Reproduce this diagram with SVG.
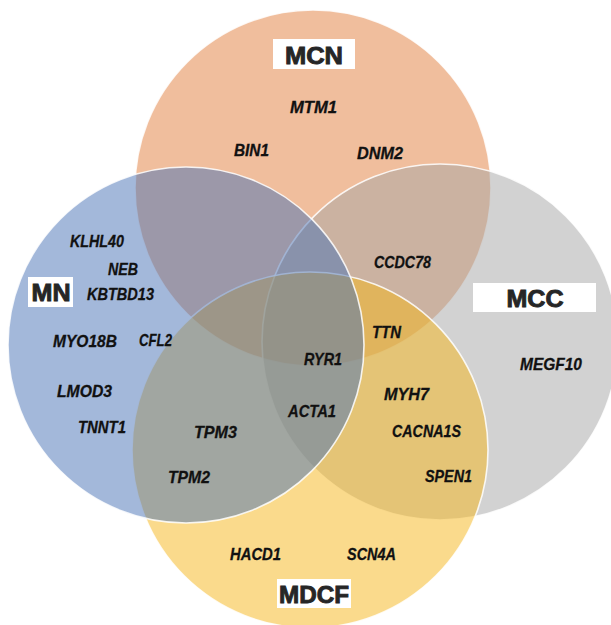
<svg xmlns="http://www.w3.org/2000/svg" width="611" height="625" viewBox="0 0 611 625">
<style>
.set{stroke:#ffffff;stroke-width:1.6;stroke-opacity:0.85}
.box{fill:#ffffff}
.title{font-family:"Liberation Sans",Arial,sans-serif;font-weight:700;font-size:24px;fill:#262626;stroke:#262626;stroke-width:0.9;text-anchor:middle}
.gene{font-family:"Liberation Sans",Arial,sans-serif;font-weight:700;font-style:italic;font-size:17px;fill:#111111;stroke:#111111;stroke-width:0.3}
</style>
<rect width="611" height="625" fill="#ffffff"/>
<g id="MCN">
<circle class="set" cx="313" cy="188" r="178" fill="#E17D3B" fill-opacity="0.5"/>
<rect class="box" x="273" y="39" width="82" height="30"/>
<text class="title" x="314" y="64" textLength="58" lengthAdjust="spacingAndGlyphs">MCN</text>
</g>
<g id="MCC">
<circle class="set" cx="440" cy="342" r="178" fill="#A5A5A5" fill-opacity="0.5"/>
<rect class="box" x="473" y="283" width="123" height="29"/>
<text class="title" x="535" y="307" textLength="57" lengthAdjust="spacingAndGlyphs">MCC</text>
</g>
<g id="MDCF">
<circle class="set" cx="310" cy="450" r="178" fill="#F5B519" fill-opacity="0.5"/>
<rect class="box" x="277" y="579" width="74" height="29"/>
<text class="title" x="314" y="603" textLength="70" lengthAdjust="spacingAndGlyphs">MDCF</text>
</g>
<g id="MN">
<circle class="set" cx="186" cy="345" r="178" fill="#4771B5" fill-opacity="0.5"/>
<rect class="box" x="28" y="277" width="45" height="30"/>
<text class="title" x="51" y="301" textLength="39" lengthAdjust="spacingAndGlyphs">MN</text>
</g>
<g id="genes" class="gene">
<text x="290" y="113" textLength="47" lengthAdjust="spacingAndGlyphs">MTM1</text>
<text x="234" y="156" textLength="35" lengthAdjust="spacingAndGlyphs">BIN1</text>
<text x="357" y="159" textLength="46" lengthAdjust="spacingAndGlyphs">DNM2</text>
<text x="70" y="247" textLength="54" lengthAdjust="spacingAndGlyphs">KLHL40</text>
<text x="108" y="275" textLength="30" lengthAdjust="spacingAndGlyphs">NEB</text>
<text x="87" y="300" textLength="67" lengthAdjust="spacingAndGlyphs">KBTBD13</text>
<text x="374" y="268" textLength="57" lengthAdjust="spacingAndGlyphs">CCDC78</text>
<text x="53" y="347" textLength="64" lengthAdjust="spacingAndGlyphs">MYO18B</text>
<text x="139" y="346" textLength="33" lengthAdjust="spacingAndGlyphs">CFL2</text>
<text x="57" y="397" textLength="55" lengthAdjust="spacingAndGlyphs">LMOD3</text>
<text x="78" y="433" textLength="48" lengthAdjust="spacingAndGlyphs">TNNT1</text>
<text x="372" y="338" textLength="29" lengthAdjust="spacingAndGlyphs">TTN</text>
<text x="304" y="365" textLength="38" lengthAdjust="spacingAndGlyphs">RYR1</text>
<text x="520" y="370" textLength="62" lengthAdjust="spacingAndGlyphs">MEGF10</text>
<text x="384" y="400" textLength="45" lengthAdjust="spacingAndGlyphs">MYH7</text>
<text x="288" y="417" textLength="48" lengthAdjust="spacingAndGlyphs">ACTA1</text>
<text x="392" y="437" textLength="69" lengthAdjust="spacingAndGlyphs">CACNA1S</text>
<text x="194" y="438" textLength="43" lengthAdjust="spacingAndGlyphs">TPM3</text>
<text x="425" y="482" textLength="47" lengthAdjust="spacingAndGlyphs">SPEN1</text>
<text x="168" y="483" textLength="42" lengthAdjust="spacingAndGlyphs">TPM2</text>
<text x="230" y="560" textLength="51" lengthAdjust="spacingAndGlyphs">HACD1</text>
<text x="347" y="560" textLength="49" lengthAdjust="spacingAndGlyphs">SCN4A</text>
</g>
</svg>
